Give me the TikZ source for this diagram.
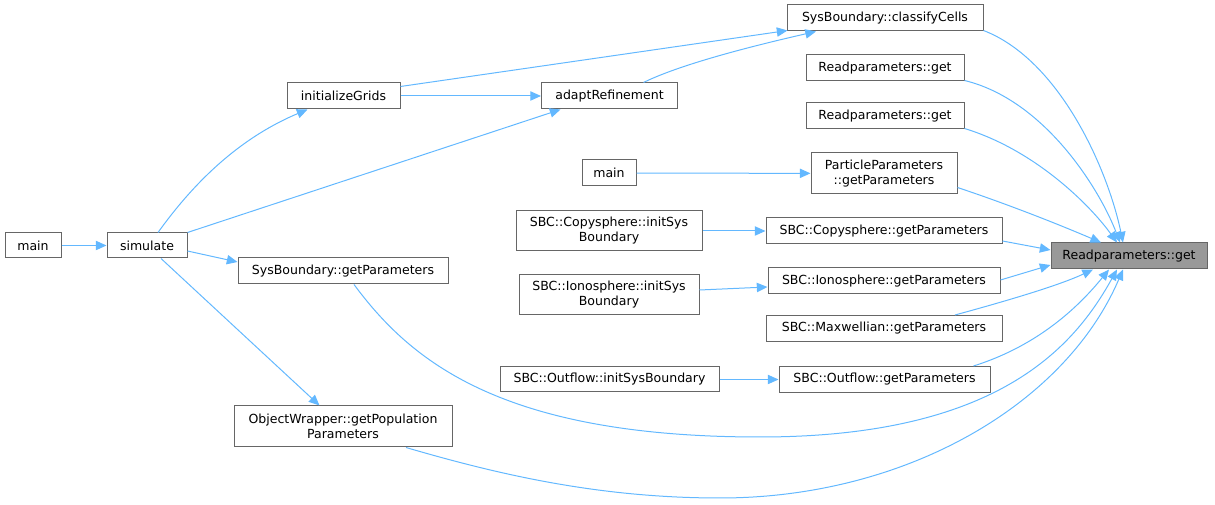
\documentclass[tikz,border=0pt]{standalone}
\usepackage{fontspec}
\setmainfont{DejaVu Sans}
\usetikzlibrary{arrows.meta,calc}
\definecolor{edgeblue}{HTML}{63B8FF}
\definecolor{boxgray}{HTML}{666666}
\definecolor{targetgray}{HTML}{999999}
\begin{document}
\begin{tikzpicture}[x=0.75pt,y=-0.75pt,
		fn/.style 2 args={draw=boxgray,line width=0.75pt,fill=white,inner sep=0pt,align=center,
				minimum width=#1*0.75pt,minimum height=#2*0.75pt,
				font=\fontsize{9.4}{11.3}\selectfont},
		call/.style={draw=edgeblue,line width=0.75pt,-{Triangle[length=8pt,width=7pt]}}]
	\useasboundingbox (0,0) rectangle (1215,505);
	% left part
	\node[fn={56}{25}] (mainA) at (33,245.5) {main};
	\node[fn={80}{25}] (simulate) at (147,245.5) {simulate};
	\node[fn={113}{26}] (initGrids) at (343.5,96) {initializeGrids};
	\node[fn={136}{26}] (adaptRef) at (609.5,96) {adaptRefinement};
	\node[fn={210}{26}] (sbParams) at (343,271) {SysBoundary::getParameters};
	\node[fn={218}{41}] (objWrap) at (343,426.5) {ObjectWrapper::getPopulation\\Parameters};
	% middle column
	\node[fn={54}{26}] (mainB) at (609,173) {main};
	\node[fn={186}{40}] (copyInit) at (609,231) {SBC::Copysphere::initSys\\Boundary};
	\node[fn={180}{40}] (ionoInit) at (609,295) {SBC::Ionosphere::initSys\\Boundary};
	\node[fn={219}{25}] (outInit) at (609.5,379.5) {SBC::Outflow::initSysBoundary};
	% right column
	\node[fn={196}{26}] (classify) at (885,18) {SysBoundary::classifyCells};
	\node[fn={158}{26}] (rpgetA) at (885,68) {Readparameters::get};
	\node[fn={158}{26}] (rpgetB) at (885,116) {Readparameters::get};
	\node[fn={146}{41}] (partParams) at (884,173.5) {ParticleParameters\\::getParameters};
	\node[fn={236}{26}] (copyParams) at (884,231) {SBC::Copysphere::getParameters};
	\node[fn={232}{26}] (ionoParams) at (884,281) {SBC::Ionosphere::getParameters};
	\node[fn={236}{26}] (maxwParams) at (884,328.5) {SBC::Maxwellian::getParameters};
	\node[fn={211}{26}] (outParams) at (884.5,379.5) {SBC::Outflow::getParameters};
	\node[fn={156}{26},fill=targetgray] (rpget) at (1129,256) {Readparameters::get};

	% callers of simulate and co.
	\draw[call] (mainA) -- (simulate);
	\draw[call] ($(simulate.north)+(11,0)$) .. controls (185,195) and (230,142) .. ($(initGrids.south)+(-36,0)$);
	\draw[call] (simulate.north east) -- ($(adaptRef.south)+(-49,0)$);
	\draw[call] ($(simulate.east)+(0,5.5)$) -- ($(sbParams.north west)+(0,4.5)$);
	\draw[call] ($(simulate.south)+(14,0)$) -- ($(objWrap.north)+(-23.5,0)$);
	\draw[call] ($(initGrids.north east)+(0,4)$) -- ($(classify.south west)+(1,-1)$);
	\draw[call] (initGrids) -- (adaptRef);
	\draw[call] ($(adaptRef.north)+(34,0)$) .. controls (685,62) and (770,42) .. ($(classify.south)+(-69,0)$);
	\draw[call] (mainB) -- (partParams);
	\draw[call] (copyInit) -- (copyParams.west);
	\draw[call] ($(ionoInit.east)+(0,-5)$) -- ($(ionoParams.west)+(0,6)$);
	\draw[call] (outInit) -- (outParams);

	% everything calling Readparameters::get
	\draw[call] ($(classify.south east)+(0,-1)$) .. controls (1060,60) and (1108,170) .. ($(rpget.north)+(-6,0)$);
	\draw[call] ($(rpgetA.south east)+(0,-1)$) .. controls (1045,100) and (1100,190) .. ($(rpget.north)+(-9,0)$);
	\draw[call] ($(rpgetB.south east)+(0,-1)$) .. controls (1035,150) and (1090,205) .. ($(rpget.north)+(-12,0)$);
	\draw[call] ($(partParams.south east)+(0,-7)$) .. controls (1010,205) and (1060,225) .. ($(rpget.north)+(-28,0)$);
	\draw[call] ($(copyParams.east)+(0,10)$) -- ($(rpget.west)+(0,-6)$);
	\draw[call] ($(ionoParams.east)+(0,-1)$) -- ($(rpget.west)+(0,9)$);
	\draw[call] ($(maxwParams.north)+(71,0)$) .. controls (1010,300) and (1060,285) .. ($(rpget.south)+(-36,0)$);
	\draw[call] ($(outParams.north)+(89,0)$) .. controls (1040,345) and (1080,305) .. ($(rpget.south)+(-20,0)$);
	\draw[call] ($(sbParams.south)+(11,0)$) .. controls (410,360) and (500,437) .. (760,437)
		.. controls (1000,437) and (1075,345) .. ($(rpget.south)+(-12,0)$);
	\draw[call] ($(objWrap.south)+(63,0)$) .. controls (500,475) and (600,498) .. (720,498)
		.. controls (905,498) and (1065,405) .. ($(rpget.south)+(-6,0)$);
\end{tikzpicture}
\end{document}
